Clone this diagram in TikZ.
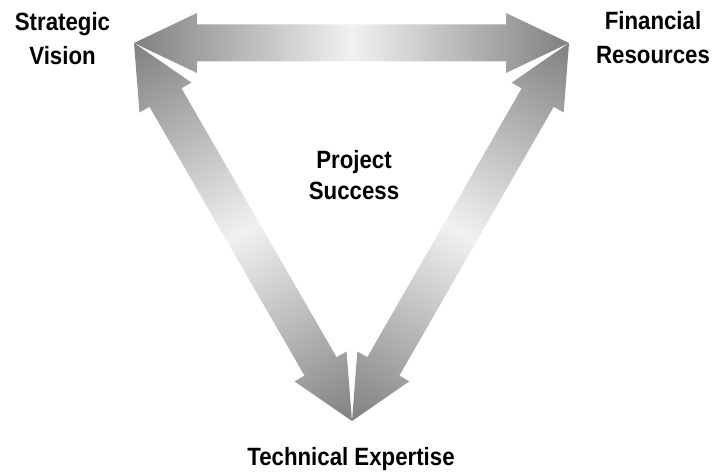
\documentclass[tikz,border=0pt]{standalone}
\usepackage{fontspec}
\setmainfont{Liberation Sans}[FakeStretch=0.89]
\definecolor{arrowend}{RGB}{128,128,131}
\definecolor{arrowmid}{RGB}{241,241,242}
\tikzset{
  arrowshade/.style={left color=arrowend, right color=arrowend, middle color=arrowmid, draw=none},
  lbl/.style={font={\fontsize{25}{34}\selectfont\bfseries}, align=center, inner sep=0pt, anchor=base},
}
\newcommand{\dblarrowshape}[1]{%
  \shade[arrowshade] (0,0) -- (63,30) -- (63,18.5) -- (#1-63,18.5) -- (#1-63,30) -- (#1,0)
    -- (#1-63,-30) -- (#1-63,-18.5) -- (63,-18.5) -- (63,-30) -- cycle;}
\begin{document}
\begin{tikzpicture}[x=1pt,y=1pt]
\useasboundingbox (0,0) rectangle (715,472);
\coordinate (SVt) at (134,429);
\coordinate (FRt) at (569,429);
\coordinate (TEt) at (352,51);
% top arrow
\begin{scope}[transform canvas={shift={(SVt)},rotate=0}]
  \dblarrowshape{435}
\end{scope}
% left arrow
\begin{scope}[transform canvas={shift={(TEt)},rotate=119.97}]
  \dblarrowshape{436.4}
\end{scope}
% right arrow
\begin{scope}[transform canvas={shift={(TEt)},rotate=60.14}]
  \dblarrowshape{435.9}
\end{scope}
\node[lbl] (sv) at (62.5,407) {Strategic\\Vision};
\node[lbl] (fr) at (653,408) {Financial\\Resources};
\node[lbl] (ps) at (354,272) {Project\\[-3pt]Success};
\node[lbl] (te) at (351,6.3) {Technical Expertise};
\end{tikzpicture}
\end{document}
